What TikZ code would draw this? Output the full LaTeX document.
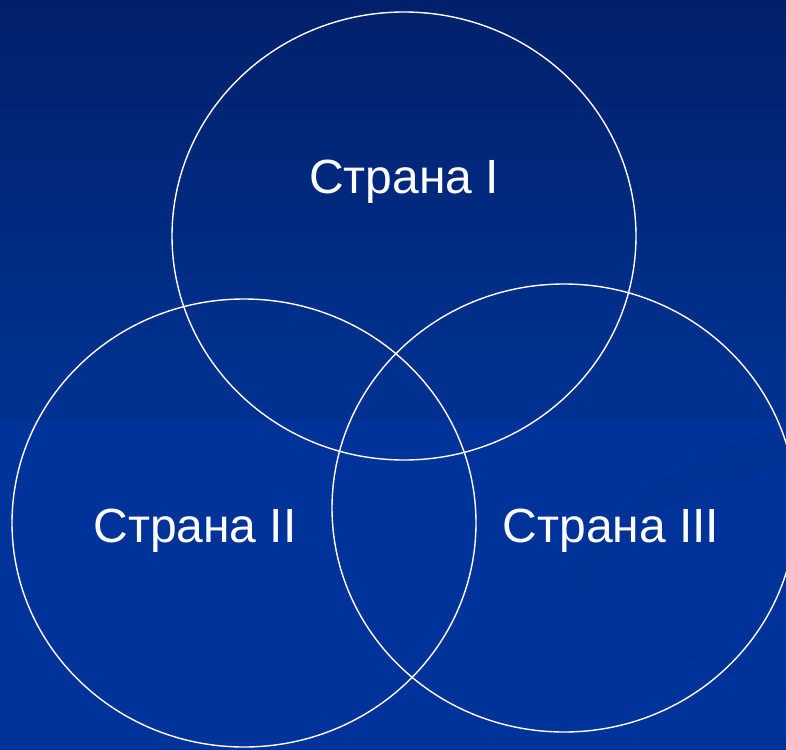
\documentclass[tikz,border=0pt]{standalone}
\usepackage{fontspec}
\setmainfont{Liberation Sans}
\usetikzlibrary{shapes.geometric}
\begin{document}
\begin{tikzpicture}[x=1pt,y=-1pt,
  ring/.style={draw=white,line width=1.4pt,ellipse,inner sep=0pt,minimum width=464pt,minimum height=448pt},
  lbl/.style={text=white,font=\fontsize{48}{56}\selectfont,inner sep=0pt}]
\definecolor{bgtop}{HTML}{01206A}
\definecolor{bgmid}{HTML}{00318F}
\definecolor{bgbot}{HTML}{003399}
\definecolor{swoosh}{HTML}{002E8E}
\useasboundingbox (0,0) rectangle (786,749);
\shade[top color=bgtop,bottom color=bgbot,middle color=bgmid] (0,0) rectangle (786,749);
\fill[bgbot] (0,420) rectangle (786,749);
% faint background swoosh
\fill[swoosh,opacity=0.3] (560,590) .. controls (600,500) and (700,450) .. (786,430)
  -- (786,470) .. controls (700,480) and (620,520) .. (590,600) -- cycle;
\fill[swoosh,opacity=0.25] (640,640) .. controls (700,660) and (750,680) .. (786,700)
  -- (786,690) .. controls (740,660) and (690,640) .. (640,630) -- cycle;
\node[ring] (c1) at (404,236) {};
\node[ring] (c2) at (244,523) {};
\node[ring] (c3) at (564,508) {};
\node[lbl] (t1) at (404,182) {Страна I};
\node[lbl] (t2) at (195,531) {Страна II};
\node[lbl] (t3) at (611,531) {Страна III};
\end{tikzpicture}
\end{document}
